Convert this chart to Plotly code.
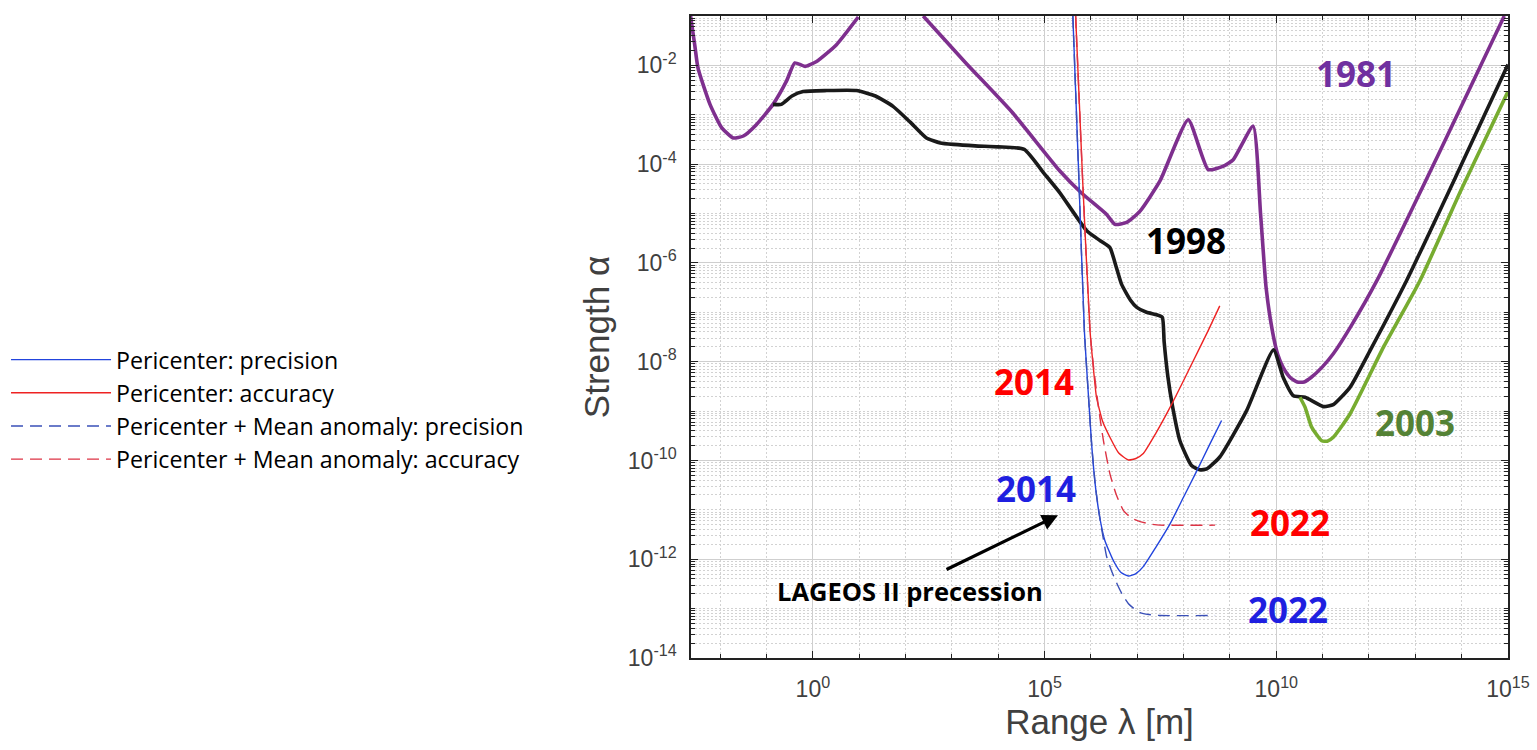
import plotly.graph_objects as go

# ---------------- data (log10 of range λ [m], log10 of strength α) ----------------
# 1981 (purple) – two visible pieces (it leaves the plot at the top in between)
lam_1981 = [-2.64, -2.55, -2.48, -2.22, -1.97, -1.72, -1.50, -1.22, -0.86, -0.57, -0.39, -0.17, 0.08, 0.51, 0.98,
            None,
            2.38, 3.30, 4.30, 5.33, 5.79, 6.34, 6.52, 6.77, 7.06, 7.49, 8.10, 8.53, 8.86, 9.07, 9.50,
            9.66, 9.78, 9.92, 10.03, 10.15, 10.30, 10.45, 10.60, 10.75, 11.00, 11.23, 11.60, 12.17, 13.50, 14.92]
alp_1981 = [-1.00, -1.58, -2.05, -2.79, -3.26, -3.47, -3.43, -3.20, -2.79, -2.32, -1.95, -2.02, -1.92, -1.58, -1.02,
            None,
            -1.00, -1.95, -2.95, -4.14, -4.58, -5.02, -5.22, -5.18, -4.95, -4.34, -3.10, -4.11, -4.04, -3.91, -3.23,
            -5.00, -6.50, -7.40, -7.85, -8.12, -8.32, -8.41, -8.41, -8.32, -8.10, -7.84, -7.30, -6.36, -3.80, -1.00]

# 1998 (black)
lam_1998 = [-0.86, -0.68, -0.45, -0.21, 0.30, 0.94, 1.35, 1.73, 2.10, 2.45, 2.75, 3.03, 3.50, 4.00, 4.56,
            5.00, 5.33, 5.91, 6.20, 6.41, 6.52, 6.66, 6.85, 6.99, 7.20, 7.42, 7.54, 7.58, 7.66, 7.76, 7.92,
            8.17, 8.35, 8.50, 8.78, 9.36, 9.94, 10.15, 10.37, 10.62, 11.02, 11.23, 11.59, 12.02, 12.81, 13.90, 15.00]
alp_1998 = [-2.79, -2.79, -2.62, -2.53, -2.51, -2.51, -2.62, -2.83, -3.15, -3.47, -3.57, -3.60, -3.63, -3.65, -3.70,
            -4.20, -4.58, -5.35, -5.55, -5.69, -6.00, -6.43, -6.75, -6.90, -7.00, -7.05, -7.10, -7.60, -8.30, -8.90, -9.60,
            -10.10, -10.19, -10.17, -9.93, -8.99, -7.76, -8.32, -8.69, -8.72, -8.91, -8.87, -8.52, -7.78, -6.36, -4.20, -1.98]

# 2003 (green)
lam_2003 = [10.51, 10.62, 10.76, 10.98, 11.10, 11.23, 11.59, 12.31, 13.10, 14.00, 15.00]
alp_2003 = [-8.72, -8.92, -9.32, -9.60, -9.61, -9.53, -9.06, -7.71, -6.36, -4.50, -2.53]

# Pericenter: precision (2014, blue solid)
lam_pp = [5.61, 5.74, 5.86, 5.94, 6.02, 6.10, 6.19, 6.30, 6.48, 6.65, 6.81, 6.97, 7.13, 7.40, 7.71, 8.00, 8.29, 8.55, 8.82]
alp_pp = [-1.00, -4.30, -7.40, -8.60, -9.73, -10.55, -11.15, -11.62, -12.02, -12.27, -12.34, -12.29, -12.15, -11.76,
          -11.28, -10.74, -10.20, -9.70, -9.19]

# Pericenter: accuracy (2014, red solid)
lam_pa = [5.67, 5.82, 5.98, 6.05, 6.12, 6.25, 6.41, 6.60, 6.81, 6.97, 7.13, 7.40, 7.71, 8.00, 8.21, 8.53, 8.78]
alp_pa = [-1.00, -4.30, -7.37, -8.10, -8.72, -9.20, -9.53, -9.85, -9.99, -9.96, -9.86, -9.45, -8.92, -8.38, -7.98,
          -7.37, -6.87]

# Pericenter + Mean anomaly: precision (2022, blue dashed)
lam_mp = [5.61, 5.74, 5.86, 5.94, 6.02, 6.10, 6.19, 6.27, 6.34, 6.45, 6.56, 6.68, 6.81, 6.93, 7.06, 7.25, 7.49, 8.68]
alp_mp = [-1.00, -4.30, -7.40, -8.60, -9.73, -10.55, -11.15, -11.60, -11.95, -12.25, -12.49, -12.72, -12.90, -13.00,
          -13.08, -13.12, -13.14, -13.14]

# Pericenter + Mean anomaly: accuracy (2022, red dashed)
lam_ma = [5.67, 5.82, 5.98, 6.05, 6.16, 6.27, 6.41, 6.55, 6.70, 6.88, 7.06, 7.30, 7.49, 8.68]
alp_ma = [-1.00, -4.30, -7.37, -8.05, -8.90, -9.60, -10.27, -10.70, -11.01, -11.17, -11.24, -11.29, -11.31, -11.31]

# tick labels
x_tick_exp = [0, 5, 10, 15]
y_tick_exp = [-14, -12, -10, -8, -6, -4, -2]

# text labels: (text, log10 λ, log10 α, colour)
labels = [
    ("1981", 11.72, -2.16, "#7030A0"),
    ("1998", 8.06, -5.55, "#000000"),
    ("2003", 12.99, -9.24, "#548235"),
    ("2014", 4.78, -8.41, "#FF0000"),
    ("2014", 4.81, -10.56, "#1F1FE0"),
    ("2022", 10.30, -11.26, "#FF0000"),
    ("2022", 10.25, -13.01, "#1F1FE0"),
]


def pw(vals):
    return [None if v is None else 10 ** v for v in vals]


fig = go.Figure()

thick = [
    (lam_1981, alp_1981, "#7E2F8E", "1981"),
    (lam_1998, alp_1998, "#1A1A1A", "1998"),
    (lam_2003, alp_2003, "#77AC30", "2003"),
]
for lx, ly, col, nm in thick:
    fig.add_trace(go.Scatter(x=pw(lx), y=pw(ly), mode="lines", name=nm, showlegend=False,
                             line=dict(color=col, width=3.6, shape="spline", smoothing=0.5)))

thin = [
    (lam_pp, alp_pp, "#2244DD", "solid", "Pericenter: precision"),
    (lam_pa, alp_pa, "#EE2222", "solid", "Pericenter: accuracy"),
    (lam_mp, alp_mp, "#3A50B8", "12px,7px", "Pericenter + Mean anomaly: precision"),
    (lam_ma, alp_ma, "#DD3344", "12px,7px", "Pericenter + Mean anomaly: accuracy"),
]
for lx, ly, col, dash, nm in thin:
    fig.add_trace(go.Scatter(x=pw(lx), y=pw(ly), mode="lines", name=nm,
                             line=dict(color=col, width=1.4, dash=dash, shape="spline", smoothing=0.5)))

for txt, lx, ly, col in labels:
    fig.add_annotation(x=lx, y=ly, xref="x", yref="y", text="<b>" + txt + "</b>", showarrow=False,
                       font=dict(family="Open Sans", size=35, color=col))

fig.add_annotation(x=2.10, y=-12.65, xref="x", yref="y", text="<b>LAGEOS II precession</b>", showarrow=False,
                   font=dict(family="Open Sans", size=25.5, color="black"))
fig.add_annotation(x=5.29, y=-11.11, xref="x", yref="y", text="", showarrow=True,
                   ax=-113, ay=55, arrowhead=2, arrowsize=1.0, arrowwidth=3.2, arrowcolor="black", standoff=0)

x_minor = [10.0 ** e for e in range(-2, 15) if e % 5 != 0]
y_minor = [m * 10.0 ** e for e in range(-14, -1) for m in range(1, 10) if not (m == 1 and e % 2 == 0)]

tickfont = dict(family="Liberation Sans", size=23, color="#404040")
fig.update_xaxes(type="log", range=[-2.63, 15.0], automargin=False,
                 tickmode="array", tickvals=[10.0 ** e for e in x_tick_exp],
                 ticktext=["10<sup>%d</sup>" % e for e in x_tick_exp],
                 ticks="inside", ticklen=7, tickcolor="#222", tickwidth=1.2,
                 showline=True, linecolor="#222", linewidth=1.5, mirror="allticks",
                 showgrid=True, gridcolor="#cfcfcf", gridwidth=1, zeroline=False,
                 minor=dict(tickmode="array", tickvals=x_minor, ticks="inside", ticklen=4, tickcolor="#222",
                            showgrid=True, gridcolor="#d2d2d2", griddash="2px,2px"),
                 tickfont=tickfont, ticklabelstandoff=10,
                 title=dict(text="Range λ [m]", font=dict(family="Liberation Sans", size=35, color="#404040"),
                            standoff=4))
fig.update_yaxes(type="log", range=[-14.0, -1.0], automargin=False,
                 tickmode="array", tickvals=[10.0 ** e for e in y_tick_exp],
                 ticktext=["10<sup>-%d</sup>" % (-e) for e in y_tick_exp],
                 ticks="inside", ticklen=7, tickcolor="#222", tickwidth=1.2,
                 showline=True, linecolor="#222", linewidth=1.5, mirror="allticks",
                 showgrid=True, gridcolor="#cfcfcf", gridwidth=1, zeroline=False,
                 minor=dict(tickmode="array", tickvals=y_minor, ticks="inside", ticklen=4, tickcolor="#222",
                            showgrid=True, gridcolor="#d2d2d2", griddash="2px,2px"),
                 tickfont=tickfont, ticklabelstandoff=8,
                 title=dict(text="Strength α", font=dict(family="Liberation Sans", size=35, color="#404040"),
                            standoff=8))

fig.update_layout(width=1537, height=750, autosize=False,
                  margin=dict(l=691, r=29, t=16, b=92, pad=0, autoexpand=False),
                  paper_bgcolor="white", plot_bgcolor="white",
                  legend=dict(x=-0.8384, y=0.4984, xanchor="left", yanchor="top",
                              font=dict(family="Open Sans", size=23.2, color="black"),
                              itemwidth=100, bgcolor="rgba(0,0,0,0)", borderwidth=0,
                              tracegroupgap=0))

fig.write_html("out.html")
